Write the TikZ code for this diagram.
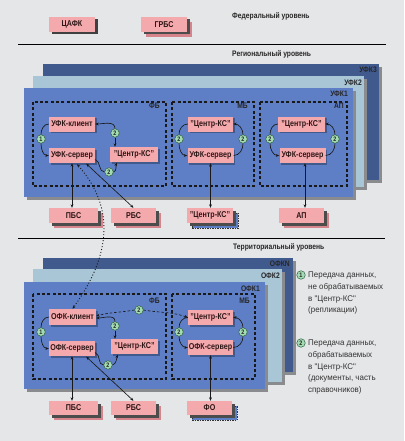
\documentclass[tikz,border=0pt]{standalone}
\usepackage{fontspec}
\setmainfont{Liberation Sans}[FakeStretch=0.84]
\newfontfamily\legfont{Liberation Sans}[FakeStretch=0.97]
\usetikzlibrary{shadows,arrows.meta,calc}
\definecolor{bg}{HTML}{E5E6E8}
\definecolor{pinkbox}{HTML}{F4A9AD}
\definecolor{pinkback}{HTML}{D6848B}
\definecolor{blueA}{HTML}{5E7FC6}
\definecolor{blueB}{HTML}{A9C6D6}
\definecolor{blueC}{HTML}{415A8E}
\definecolor{shad}{HTML}{8A8B8E}
\definecolor{greenc}{HTML}{A3DCB2}
\definecolor{greendk}{HTML}{2F5F40}
\definecolor{txt}{HTML}{2E1616}
\tikzset{
 box/.style={fill=pinkbox, minimum width=46pt, minimum height=15pt, inner sep=0pt, font=\bfseries\fontsize{8.5}{10}\selectfont, text=txt},
 inbox/.style={box, drop shadow={shadow xshift=1.5pt,shadow yshift=-1.5pt,fill=blueC,opacity=1}},
 outbox/.style={box, drop shadow={shadow xshift=2.5pt,shadow yshift=-2.5pt,fill=black!75,opacity=1}},
 stackbox/.style={box, copy shadow={shadow xshift=5pt,shadow yshift=-5pt,fill=pinkback,draw=none}, drop shadow={shadow xshift=2.5pt,shadow yshift=-2.5pt,fill=black!70,opacity=1}},
 bluestack/.style={box, copy shadow={shadow xshift=5pt,shadow yshift=-5pt,fill=blueA,draw=black!80,dash pattern=on 1.5pt off 1pt,line width=0.8pt}, drop shadow={shadow xshift=2.5pt,shadow yshift=-2.5pt,fill=black!70,opacity=1}},
 num/.style={circle, fill=greenc, draw=greendk, line width=0.5pt, inner sep=0pt, minimum size=8.5pt, font=\bfseries\fontsize{6.5}{7}\selectfont, text=black!85},
 hdr/.style={font=\bfseries\fontsize{8}{9}\selectfont, inner sep=0pt, text=black!85},
 lay/.style={drop shadow={shadow xshift=3pt,shadow yshift=-3pt,fill=shad,opacity=1}},
 zone/.style={draw=black!90, line width=1.1pt, dash pattern=on 3pt off 2.3pt},
 ln/.style={line width=0.65pt, draw=black!90},
 arr/.style={ln, -{Stealth[length=3.5pt,width=2.8pt]}},
 darr/.style={ln, {Stealth[length=3.5pt,width=2.8pt]}-{Stealth[length=3.5pt,width=2.8pt]}},
 sep/.style={line width=1pt, draw=black},
 leg/.style={align=left, font=\legfont\fontsize{8.2}{11.7}\selectfont, inner sep=0pt, text=black!80},
}
\begin{document}
\begin{tikzpicture}[x=1pt,y=-1pt]
\useasboundingbox (0,0) rectangle (404,441);
\fill[bg] (0,0) rectangle (404,441);

% ---------- federal ----------
\node[hdr,anchor=base west] (hfed) at (232,18.5) {Федеральный уровень};
\node[outbox] (cafk) at (72,24.5) {ЦАФК};
\node[stackbox] (grbs) at (164,24.5) {ГРБС};
\draw[sep] (18,45) -- (386,45);

% ---------- regional ----------
\node[hdr,anchor=base west] (hreg) at (232,57) {Региональный уровень};
\path[fill=blueC, lay] (43,64) rectangle (379,180);
\path[fill=blueB, lay] (33,76) rectangle (364,187);
\path[fill=blueA, lay] (24,88) rectangle (353,197);
\node[hdr,anchor=base east] (l3) at (377,73) {УФК3};
\node[hdr,anchor=base east] (l2) at (362,86) {УФК2};
\node[hdr,anchor=base east] (l1) at (348,97) {УФК1};
\draw[zone] (33,102) rectangle (166,186);
\draw[zone] (172,102) rectangle (254,186);
\draw[zone] (260,102) rectangle (347,186);
\node[hdr,anchor=base east] (zfb) at (160,108.5) {ФБ};
\node[hdr,anchor=base east] (zmb) at (248,108.5) {МБ};
\node[hdr,anchor=base east] (zap) at (344,108.5) {АП};

\node[inbox] (uk) at (72,124) {УФК-клиент};
\node[inbox] (us) at (72,155.5) {УФК-сервер};
\node[inbox, minimum width=48pt] (ucks) at (134,154.5) {"Центр-КС"};
\node[inbox, minimum width=45pt] (mcks) at (210.5,124) {"Центр-КС"};
\node[inbox] (mus) at (210.5,155.5) {УФК-сервер};
\node[inbox, minimum width=47pt] (acks) at (301.5,124) {"Центр-КС"};
\node[inbox] (aus) at (302.5,155.5) {УФК-сервер};

\node[num] (c1) at (41,139) {1};
\node[num] (c2a) at (115,133) {2};
\node[num] (c2b) at (109,172) {2};
\node[num] (cm1) at (179,139) {2};
\node[num] (cm2) at (243,139) {2};
\node[num] (ca1) at (270,139) {2};
\node[num] (ca2) at (335,139) {2};

\draw[ln] (uk.west) to[out=180,in=90] (c1.north);
\draw[arr] (c1.south) to[out=-90,in=180] (us.west);
\draw[arr] (c2a.north) to[out=90,in=0] (uk.east);
\draw[arr] (c2a.south) -- (c2a.south |- ucks.north);
\draw[ln] ($(us.east)+(0,4)$) to[out=-20,in=180] (c2b.west);
\draw[arr] (c2b.east) to[out=20,in=-110] ($(ucks.south west)+(7,0.5)$);
\draw[ln] (mcks.west) to[out=180,in=90] (cm1.north);
\draw[arr] (cm1.south) to[out=-90,in=180] (mus.west);
\draw[ln] (mus.east) to[out=0,in=-90] (cm2.south);
\draw[arr] (cm2.north) to[out=90,in=0] (mcks.east);
\draw[ln] (acks.west) to[out=180,in=90] (ca1.north);
\draw[arr] (ca1.south) to[out=-90,in=180] (aus.west);
\draw[ln] (aus.east) to[out=0,in=-90] (ca2.south);
\draw[arr] (ca2.north) to[out=90,in=0] (acks.east);

\node[stackbox, minimum width=49pt] (pbs) at (73.5,215.5) {ПБС};
\node[stackbox, minimum width=45pt] (rbs) at (133.5,215.5) {РБС};
\node[bluestack] (cks2) at (210,215.5) {"Центр-КС"};
\node[stackbox, minimum width=45pt] (ap) at (301.5,215.5) {АП};

\draw[darr] (us.south) -- (us.south |- pbs.north);
\draw[darr] ($(us.south east)+(-9,0.5)$) -- (rbs.north);
\draw[darr] (mus.south) -- (mus.south |- cks2.north);
\draw[darr] ($(aus.south)+(2.5,0)$) -- ($(aus.south |- ap.north)+(2.5,0)$);

\draw[sep] (18,238) -- (385,238);

% ---------- territorial ----------
\node[hdr,anchor=base west] (hter) at (233,249) {Территориальный уровень};
\path[fill=blueC, lay] (43,258) rectangle (293,372);
\path[fill=blueB, lay] (33,269) rectangle (282,382);
\path[fill=blueA, lay] (24,282) rectangle (265,389);
\node[hdr,anchor=base east] (t3) at (290,266) {ОФКN};
\node[hdr,anchor=base east] (t2) at (280,278) {ОФК2};
\node[hdr,anchor=base east] (t1) at (260,291) {ОФК1};
\draw[zone] (33,294) rectangle (166,379);
\draw[zone] (172,294) rectangle (255,379);
\node[hdr,anchor=base east] (tzfb) at (160,303) {ФБ};
\node[hdr,anchor=base east] (tzmb) at (250,303) {МБ};

\node[inbox, minimum width=47pt, minimum height=16pt] (ok) at (72.5,317) {ОФК-клиент};
\node[inbox] (os) at (72,348.5) {ОФК-сервер};
\node[inbox, minimum width=47pt] (tcks) at (134.5,346.5) {"Центр-КС"};
\node[inbox, minimum width=45pt] (tmcks) at (210.5,317.5) {"Центр-КС"};
\node[inbox, minimum width=45pt] (tmos) at (210.5,347.5) {ОФК-сервер};

\node[num] (d1) at (41,332) {1};
\node[num] (d2a) at (115,326) {2};
\node[num] (d2b) at (108,365) {2};
\node[num] (d2d) at (139,310) {2};
\node[num] (dm1) at (179,332) {2};
\node[num] (dm2) at (243,332) {2};

\draw[ln] (ok.west) to[out=180,in=90] (d1.north);
\draw[arr] (d1.south) to[out=-90,in=180] (os.west);
\draw[arr] (d2a.north) to[out=90,in=0] ($(ok.east)+(0,1)$);
\draw[arr] (d2a.south) -- (d2a.south |- tcks.north);
\draw[ln] ($(os.east)+(0,4)$) to[out=-20,in=180] (d2b.west);
\draw[arr] (d2b.east) to[out=20,in=-110] ($(tcks.south west)+(7,0.5)$);
\draw[arr, dash pattern=on 2.5pt off 2pt] (d2d.west) to[out=190,in=15] ($(ok.east)+(0,-1)$);
\draw[arr, dash pattern=on 2.5pt off 2pt] (d2d.east) to[out=-10,in=160] (tmcks.west);
\draw[ln] (tmcks.west) to[out=180,in=90] (dm1.north);
\draw[arr] (dm1.south) to[out=-90,in=180] (tmos.west);
\draw[ln] (tmos.east) to[out=0,in=-90] (dm2.south);
\draw[arr] (dm2.north) to[out=90,in=0] (tmcks.east);

\node[stackbox, minimum width=49pt, minimum height=14pt] (tpbs) at (73.5,408) {ПБС};
\node[stackbox, minimum width=45pt, minimum height=14pt] (trbs) at (133.5,408) {РБС};
\node[bluestack, minimum width=45pt, minimum height=14pt] (fo) at (209.5,408) {ФО};

\draw[darr] (os.south) -- (os.south |- tpbs.north);
\draw[darr] ($(os.south east)+(-9,0.5)$) -- (trbs.north);
\draw[darr] (tmos.south) -- (tmos.south |- fo.north);

% dotted link between levels
\draw[ln, line width=0.9pt, dash pattern=on 1pt off 2pt, {Stealth[length=3.5pt,width=2.8pt]}-{Stealth[length=3.5pt,width=2.8pt]}]
  ($(us.south)+(5,1)$) .. controls (104,195) and (122,240) .. (ok.north);

% ---------- legend ----------
\node[num] (g1) at (301,275) {1};
\node[leg, anchor=north west] (gt1) at (308,272) {Передача данных,\\не обрабатываемых\\в "Центр-КС"\\(репликации)};
\node[num] (g2) at (301,343) {2};
\node[leg, anchor=north west] (gt2) at (308,340) {Передача данных,\\обрабатываемых\\в "Центр-КС"\\(документы, часть\\справочников)};
\end{tikzpicture}
\end{document}
